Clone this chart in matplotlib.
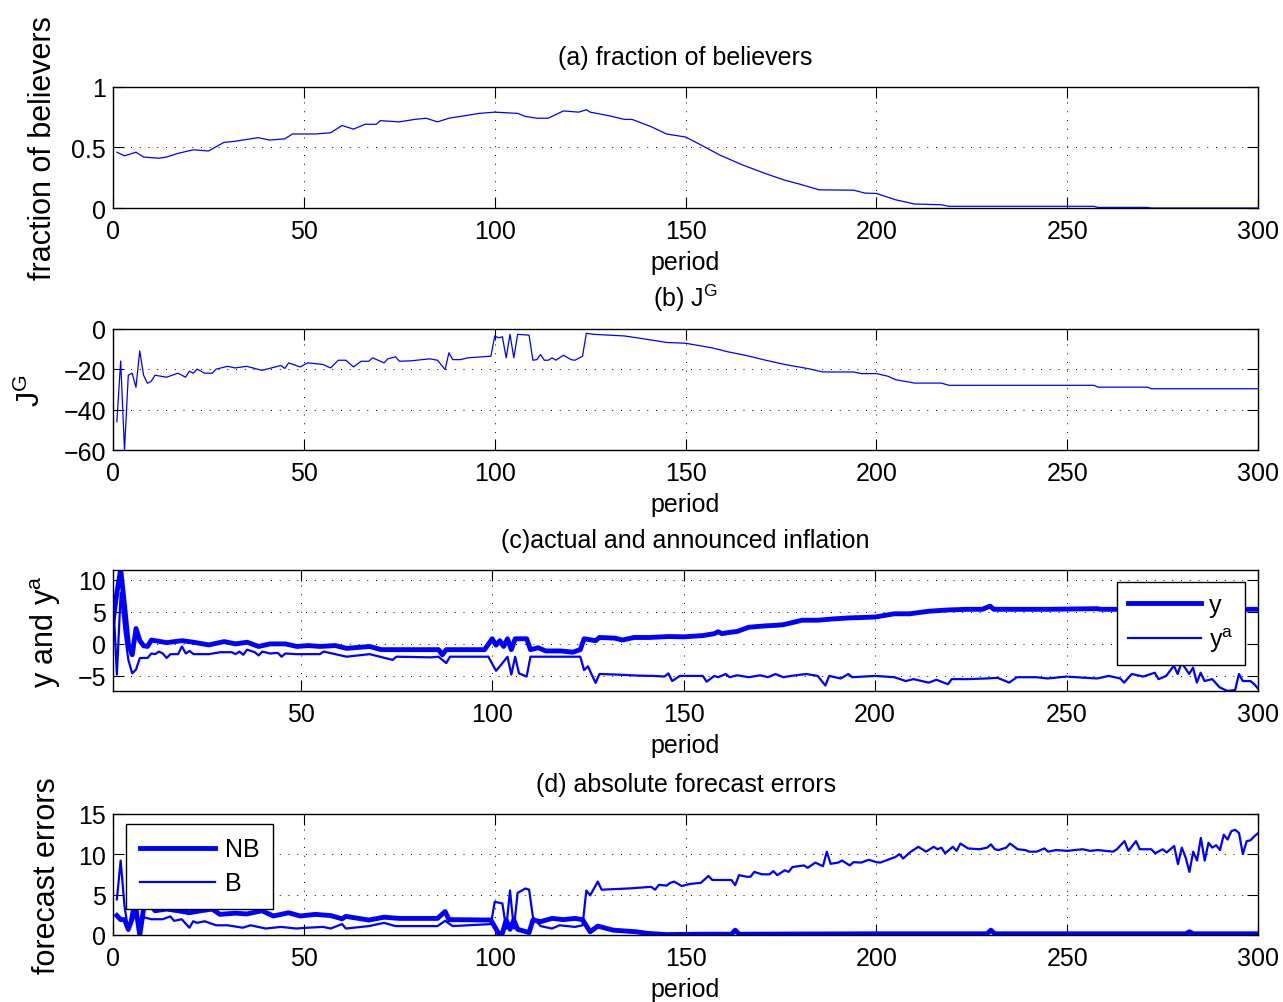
import matplotlib
matplotlib.use("Agg")
import matplotlib.pyplot as plt
from matplotlib.ticker import FuncFormatter

plt.rcParams['font.family'] = ['Liberation Sans', 'DejaVu Sans']
plt.rcParams['mathtext.default'] = 'regular'
plt.rcParams['font.size'] = 18

# %% data (period, value)
# (a) fraction of believers
a_t = [1, 3, 6, 8, 12, 14, 17, 21, 25, 29, 32, 38, 41, 45, 47, 53, 57, 60, 63, 66,
       69, 70, 75, 79, 82, 85, 88, 92, 96, 100, 106, 108, 111, 114, 118, 122, 124, 125, 130, 134,
       136, 141, 145, 150, 154, 159, 165, 171, 176, 180, 185, 194, 197, 200, 205, 210, 217, 219, 257, 258,
       271, 272, 300]
a_v = [0.46, 0.43, 0.46, 0.42, 0.41, 0.42, 0.45, 0.48, 0.47, 0.54, 0.55, 0.58, 0.56, 0.57, 0.61, 0.61, 0.62, 0.68, 0.65, 0.69,
       0.69, 0.72, 0.71, 0.73, 0.74, 0.71, 0.74, 0.76, 0.78, 0.79, 0.78, 0.755, 0.74, 0.74, 0.80, 0.79, 0.81, 0.79, 0.76, 0.73,
       0.73, 0.67, 0.61, 0.585, 0.52, 0.436, 0.354, 0.283, 0.229, 0.196, 0.15, 0.147, 0.123, 0.12, 0.068, 0.033, 0.027, 0.014, 0.014, 0.005,
       0.005, 0.0, 0.0]

# (b) J^G
b_t = [1, 2, 3, 4, 5, 6, 7, 8, 9, 10, 11, 14, 17, 19, 20, 21, 22, 24, 26, 27,
       30, 32, 35, 39, 44, 45, 46, 49, 51, 55, 57, 59, 61, 63, 65, 67, 68, 71, 72,
       74, 75, 78, 83, 85, 87, 88, 89, 91, 93, 99, 100, 101, 102, 103, 104, 105, 106, 109, 110,
       111, 112, 113, 114, 115, 116, 118, 120, 121, 123, 124, 126, 134, 140, 145, 150, 157, 161, 166, 171,
       176, 182, 186, 194, 196, 200, 203, 205, 210, 217, 219, 257, 258, 271, 272, 300]
b_v = [-46, -16, -60, -23, -22, -29, -11, -23, -27, -26, -23, -24, -22, -24, -21, -22, -20, -22, -22, -20,
       -18.6, -19.4, -18.6, -20.6, -18.2, -19.7, -16.9, -18.9, -16.9, -17.7, -19.4, -15.6, -15.6, -18.9, -16.1, -16.1, -14.4, -16.9, -14.9,
       -13.9, -16.1, -15.9, -14.9, -15.6, -20.2, -11.9, -15.3, -15.3, -14.4, -13.6, -3.6, -4.5, -4, -14.4, -2.8, -14.4, -2.8, -3.2, -15.6,
       -15.3, -12.8, -15.6, -15.6, -14.4, -15.6, -13.1, -15.3, -15.6, -13.6, -2.3, -2.8, -3.6, -5.3, -6.8, -7.2, -9.5, -11.4, -13.3, -15.6,
       -17.7, -19.7, -21.4, -21.4, -22.2, -22.2, -23.5, -25.2, -26.9, -26.9, -28, -28, -28.9, -28.9, -29.7, -29.7]

# (c) actual inflation y
y_t = [1, 2, 3, 4, 5, 6, 7, 8, 9, 10, 11, 15, 19, 22, 26, 30, 33, 36, 39, 42, 46,
       49, 52, 55, 59, 62, 68, 71, 78, 83, 86, 87, 88, 98, 100, 101, 102, 103, 104, 105, 106,
       109, 110, 112, 114, 118, 121, 123, 124, 127, 128, 132, 134, 137, 141, 146, 150, 155, 158, 159, 160,
       162, 164, 167, 171, 174, 176, 181, 185, 189, 193, 200, 205, 209, 214, 219, 224, 228, 230, 231, 245,
       258, 259, 300]
y_v = [3.5, 8, 11.6, 6, 0, -1.7, 2.4, 0.5, -0.3, -0.4, 0.6, 0.2, 0.5, 0.26, -0.16, 0.36, 0, 0.26, -0.4, 0, 0,
       -0.4, -0.26, -0.4, -0.26, -0.7, -0.4, -0.9, -0.9, -0.9, -0.9, -1.7, -0.9, -0.9, 0.8, -0.2, 0.5, -0.4, 0.8, -0.9, 0.8,
       0.8, -0.9, -0.6, -1.1, -1.1, -1.3, -0.9, 0.8, 0.5, 1.0, 0.9, 0.6, 1.0, 1.0, 1.15, 1.1, 1.3, 1.6, 1.9, 1.6,
       1.8, 1.95, 2.6, 2.8, 2.9, 3.0, 3.7, 3.7, 3.9, 4.05, 4.2, 4.7, 4.7, 5.1, 5.3, 5.4, 5.4, 5.9, 5.4, 5.4,
       5.5, 5.4, 5.4]

# (c) announced inflation y^a
ya_pts = [(1, 7.6), (2, -4.8), (3, 8), (4, 2), (5, -2.5), (6, -4.6), (7, -4), (8, -2.2), (10, -2.2), (11, -1.5),
          (12, -1.6), (13, -1.2), (14, -1.5), (15, -2.2), (16, -1.6), (18, -1.6), (19, -0.4), (20, -1.5), (21, -1.1),
          (22, -1.6), (26, -1.6), (29, -1.3), (32, -1.3), (33, -1.6), (34, -1.2), (35, -1.7), (36, -0.9), (38, -1.3),
          (39, -1.8), (40, -1.2), (42, -1.5), (44, -1.4), (45, -2.0), (46, -1.5), (49, -1.6), (55, -1.6), (56, -1.2),
          (59, -1.6), (62, -2.0), (68, -1.6), (74, -2.5), (75, -2.0), (84, -2.1), (86, -2.0), (88, -3.0), (89, -2.0),
          (99, -2.0), (101, -4.2), (102, -3.5), (104, -2.0), (105, -4.8), (106, -2.0), (107, -4.6), (109, -5.1),
          (110, -2.0), (123, -2.0), (124, -4.1), (125, -3.5), (127, -6.1), (128, -4.7), (133, -4.8), (138, -4.95),
          (142, -5.0), (145, -5.1), (146, -4.6), (147, -5.8), (149, -5.0), (152, -5.0), (155, -5.0), (156, -5.9),
          (158, -5.0), (159, -5.2), (161, -4.7), (162, -5.2), (164, -4.9), (167, -5.2), (170, -4.9), (172, -5.2),
          (174, -4.7), (176, -5.2), (178, -5.0), (182, -4.7), (185, -5.0), (187, -6.5), (188, -5.0), (191, -5.4),
          (193, -4.7), (194, -5.2), (200, -5.0), (205, -5.2), (208, -5.8), (210, -5.5), (214, -6.05), (216, -5.6),
          (219, -6.3), (220, -5.5), (224, -5.5), (229, -5.4), (232, -5.3), (235, -6.05), (237, -5.2), (242, -5.2),
          (245, -5.4), (250, -5.1), (255, -5.3), (258, -5.4), (261, -5.0), (264, -5.4), (265, -6.05), (267, -4.7),
          (270, -5.1), (273, -4.5), (274, -5.5), (276, -5.0), (278, -3.4), (279, -4.7), (280, -2.9), (282, -4.7),
          (283, -3.7), (284, -6.05), (285, -4.5), (286, -5.8), (288, -5.5), (290, -6.8), (292, -7.35), (294, -7.2),
          (295, -4.7), (296, -5.8), (298, -5.8), (299, -6.3), (300, -7.0)]
ya_t = [p[0] for p in ya_pts]
ya_v = [p[1] for p in ya_pts]

# (d) absolute forecast errors, non-believers (NB)
nb_t = [1, 2, 3, 4, 5, 6, 7, 8, 9, 10, 11, 14, 17, 20, 23, 26, 28, 32, 35, 39, 42,
        46, 49, 53, 57, 60, 61, 67, 71, 75, 82, 85, 87, 88, 99, 101, 102, 103, 104, 105, 106,
        109, 110, 112, 115, 118, 121, 123, 125, 127, 131, 137, 140, 145, 154, 162, 163, 164, 200, 229, 230,
        231, 281, 282, 283, 300]
nb_v = [2.4, 1.9, 1.9, 0.7, 2.0, 3.2, 0.0, 3.2, 3.6, 3.6, 3.0, 3.2, 3.0, 2.75, 3.0, 3.2, 2.55, 2.7, 2.6, 3.0, 2.35,
        2.75, 2.35, 2.55, 2.4, 2.0, 2.3, 1.85, 2.2, 2.05, 2.05, 2.05, 2.9, 1.9, 1.85, 0.2, 0.2, 1.85, 0.7, 1.85, 0.7,
        0.3, 1.85, 1.65, 2.05, 1.9, 2.05, 1.9, 0.4, 1.1, 0.6, 0.4, 0.2, 0.05, 0.1, 0.1, 0.6, 0.1, 0.15, 0.15, 0.6,
        0.15, 0.15, 0.4, 0.15, 0.15]

# (d) believers (B)
b_pts = [(1, 4.4), (2, 9.2), (3, 3.6), (4, 0.5), (5, 3.2), (6, 4.4), (7, 0.0), (8, 2.2), (10, 1.95), (13, 1.95),
         (15, 2.3), (16, 1.75), (18, 1.95), (20, 0.9), (21, 1.7), (22, 1.5), (24, 1.7), (27, 1.2), (30, 1.2), (34, 0.9),
         (36, 1.2), (40, 0.8), (44, 1.0), (48, 0.8), (51, 0.9), (55, 1.0), (57, 0.8), (60, 1.35), (61, 0.8), (67, 1.1),
         (71, 1.5), (74, 1.1), (85, 1.1), (87, 1.75), (89, 1.1), (99, 1.35), (100, 4.1), (101, 4.0), (102, 3.9),
         (103, 0.8), (104, 5.5), (105, 0.8), (106, 5.2), (108, 5.75), (109, 5.6), (110, 2.25), (112, 1.1), (115, 0.8),
         (117, 1.2), (121, 1.0), (123, 1.2), (124, 5.5), (125, 4.9), (127, 6.6), (128, 5.6), (135, 5.75), (141, 5.95),
         (142, 5.6), (143, 6.2), (145, 6.1), (146, 6.45), (147, 6.6), (149, 6.05), (151, 6.3), (154, 6.45), (156, 7.3),
         (157, 6.8), (162, 6.8), (163, 6.15), (164, 7.4), (166, 7.2), (167, 7.2), (168, 7.8), (170, 7.5), (172, 7.5),
         (173, 7.9), (174, 7.4), (176, 8.0), (177, 7.8), (178, 8.4), (181, 8.6), (182, 8.3), (184, 8.95), (186, 8.5),
         (187, 10.3), (188, 8.8), (190, 8.95), (191, 9.2), (193, 8.6), (194, 9.0), (196, 8.95), (198, 9.3), (200, 9.0),
         (201, 8.95), (203, 9.3), (205, 9.65), (206, 10.0), (207, 9.45), (209, 10.3), (211, 10.9), (213, 10.3),
         (215, 10.9), (216, 10.6), (217, 10.8), (218, 10.1), (220, 10.9), (221, 10.4), (222, 11.3), (224, 10.7),
         (227, 10.6), (229, 10.8), (230, 11.2), (231, 10.6), (232, 10.5), (234, 10.8), (235, 11.3), (237, 10.6),
         (239, 10.5), (240, 10.3), (242, 10.3), (244, 10.7), (245, 10.3), (247, 10.5), (250, 10.4), (254, 10.6),
         (256, 10.4), (258, 10.5), (260, 10.4), (262, 10.3), (263, 10.6), (265, 11.6), (266, 10.4), (268, 11.6),
         (269, 10.6), (272, 10.6), (273, 10.1), (275, 10.6), (276, 10.2), (278, 11.0), (279, 8.75), (280, 10.8),
         (281, 9.6), (282, 7.8), (283, 10.3), (284, 9.2), (285, 12.0), (286, 9.2), (287, 11.4), (288, 10.8),
         (289, 11.1), (290, 10.5), (291, 12.4), (292, 11.8), (293, 12.85), (294, 13.0), (295, 12.6), (296, 10.0),
         (297, 11.6), (298, 11.7), (299, 12.2), (300, 12.6)]
bb_t = [p[0] for p in b_pts]
bb_v = [p[1] for p in b_pts]

x_ticks = [0, 50, 100, 150, 200, 250, 300]
c_x_ticks = [50, 100, 150, 200, 250, 300]


# %% figure
fig = plt.figure(figsize=(12.83, 10.03), dpi=100)
L, W, H = 0.0881, 0.8925, 0.1210
bottoms = [0.7916, 0.5503, 0.3101, 0.0668]
axs = [fig.add_axes([L, b, W, H]) for b in bottoms]

# matlab-like tick labels: 0, 0.5, 1 and a real minus sign
fmt = FuncFormatter(lambda v, pos: ('%g' % v).replace('-', '\u2212'))


def style(ax, xlim, ylim, xticks, yticks, ylab, ylab_x, title):
    ax.set_xlim(xlim)
    ax.set_ylim(ylim)
    ax.set_xticks(xticks)
    ax.set_yticks(yticks)
    ax.yaxis.set_major_formatter(fmt)
    ax.tick_params(direction='in', length=8, width=0.8, top=True, right=True,
                   labelsize=18, colors='k')
    ax.tick_params(axis='x', pad=8)
    ax.tick_params(axis='y', pad=5)
    ax.grid(True, color='k', linestyle=(0, (1, 8)), linewidth=0.7)
    for s in ax.spines.values():
        s.set_linewidth(1.0)
    ax.set_xlabel('period', labelpad=5)
    ax.set_ylabel(ylab, fontsize=22)
    ax.yaxis.set_label_coords(ylab_x, 0.5)
    ax.set_title(title, fontsize=18, pad=16)


ax = axs[0]
ax.plot(a_t, a_v, color='b', lw=0.9)
style(ax, (0, 300), (0, 1), x_ticks, [0, 0.5, 1], 'fraction of believers', -0.048,
      '(a) fraction of believers')

ax = axs[1]
ax.plot(b_t, b_v, color='b', lw=0.9)
style(ax, (0, 300), (-60, 0), x_ticks, [-60, -40, -20, 0], 'J$^G$', -0.058, '(b) J$^G$')

ax = axs[2]
ax.plot(y_t, y_v, color='b', lw=3.5, label='y')
ax.plot(ya_t, ya_v, color='b', lw=1.6, label='y$^a$')
c_lo = min(y_v + ya_v)
c_hi = max(y_v + ya_v)
style(ax, (1, 300), (c_lo, c_hi), c_x_ticks, [-5, 0, 5, 10], 'y and y$^a$', -0.044,
      '(c)actual and announced inflation')
leg = ax.legend(loc='upper right', bbox_to_anchor=(0.9886, 0.9008), borderaxespad=0,
                fancybox=False, framealpha=1, edgecolor='k', handlelength=2.9,
                handletextpad=0.35, borderpad=0.45, labelspacing=0.35, fontsize=18)
leg.get_frame().set_linewidth(1.0)

ax = axs[3]
ax.plot(nb_t, nb_v, color='b', lw=3.5, label='NB')
ax.plot(bb_t, bb_v, color='b', lw=1.6, label='B')
style(ax, (0, 300), (0, 15), x_ticks, [0, 5, 10, 15], 'forecast errors', -0.045,
      '(d) absolute forecast errors')
leg = ax.legend(loc='upper left', bbox_to_anchor=(0.0114, 0.917), borderaxespad=0,
                fancybox=False, framealpha=1, edgecolor='k', handlelength=3.0,
                handletextpad=0.4, borderpad=0.55, labelspacing=0.4, fontsize=18)
leg.get_frame().set_linewidth(1.0)

fig.savefig('out.png', dpi=100)
